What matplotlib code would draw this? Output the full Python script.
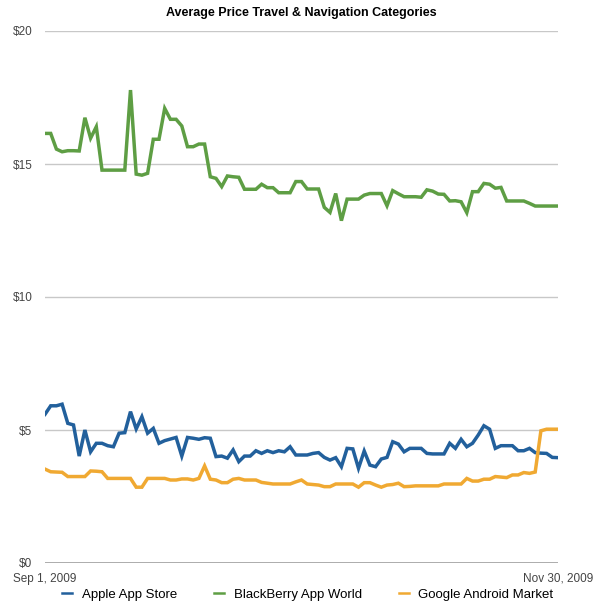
import matplotlib
matplotlib.use("Agg")
import matplotlib.pyplot as plt
import pandas as pd

plt.rcParams['font.family'] = ['Liberation Sans', 'DejaVu Sans']

# daily data, Sep 1 - Nov 30 2009
dates = pd.date_range("2009-09-01", "2009-11-30", freq="D")

apple = [5.59, 5.91, 5.91, 5.97, 5.25, 5.19, 4.02, 5.0, 4.18, 4.5,
         4.5, 4.41, 4.37, 4.88, 4.9, 5.69, 5.04, 5.5, 4.88, 5.06,
         4.5, 4.6, 4.66, 4.72, 4.02, 4.72, 4.69, 4.65, 4.71, 4.69,
         4.0, 4.02, 3.94, 4.25, 3.81, 4.02, 4.02, 4.22, 4.12, 4.22,
         4.15, 4.22, 4.18, 4.37, 4.06, 4.06, 4.06, 4.12, 4.15, 3.97,
         3.87, 3.96, 3.62, 4.31, 4.29, 3.56, 4.21, 3.68, 3.62, 3.91,
         3.97, 4.56, 4.47, 4.18, 4.31, 4.31, 4.31, 4.12, 4.1, 4.1,
         4.1, 4.5, 4.31, 4.65, 4.37, 4.5, 4.81, 5.16, 5.03, 4.31,
         4.41, 4.41, 4.41, 4.22, 4.22, 4.31, 4.15, 4.13, 4.12, 3.97,
         3.96]

blackberry = [16.15, 16.15, 15.56, 15.46, 15.5, 15.5, 15.49, 16.74, 15.97, 16.4,
              14.77, 14.77, 14.77, 14.77, 14.77, 17.78, 14.62, 14.58, 14.65, 15.93,
              15.93, 17.09, 16.68, 16.68, 16.43, 15.65, 15.65, 15.75, 15.75, 14.52,
              14.46, 14.15, 14.55, 14.52, 14.5, 14.05, 14.05, 14.05, 14.24, 14.11,
              14.11, 13.92, 13.92, 13.92, 14.34, 14.34, 14.06, 14.06, 14.06, 13.37,
              13.18, 13.89, 12.87, 13.68, 13.68, 13.68, 13.83, 13.89, 13.89, 13.89,
              13.43, 14.0, 13.88, 13.77, 13.77, 13.77, 13.75, 14.03, 13.98, 13.87,
              13.86, 13.61, 13.62, 13.58, 13.17, 13.96, 13.96, 14.27, 14.24, 14.09,
              14.12, 13.61, 13.61, 13.61, 13.61, 13.52, 13.42, 13.42, 13.42, 13.42,
              13.42]

android = [3.53, 3.43, 3.42, 3.41, 3.25, 3.25, 3.25, 3.25, 3.46, 3.45,
           3.43, 3.18, 3.18, 3.18, 3.18, 3.18, 2.85, 2.85, 3.18, 3.18,
           3.18, 3.18, 3.12, 3.12, 3.16, 3.16, 3.12, 3.18, 3.65, 3.15,
           3.12, 3.02, 3.02, 3.15, 3.18, 3.12, 3.12, 3.12, 3.03, 3.0,
           2.97, 2.97, 2.97, 2.97, 3.05, 3.12, 2.97, 2.95, 2.93, 2.87,
           2.87, 2.97, 2.97, 2.97, 2.97, 2.85, 3.02, 3.02, 2.93, 2.85,
           2.93, 2.95, 3.0, 2.87, 2.88, 2.9, 2.9, 2.9, 2.9, 2.9,
           2.97, 2.97, 2.97, 2.97, 3.18, 3.08, 3.08, 3.15, 3.15, 3.25,
           3.23, 3.21, 3.31, 3.31, 3.4, 3.37, 3.42, 4.97, 5.03, 5.03,
           5.03]

series = ["Apple App Store", "BlackBerry App World", "Google Android Market"]
colors = ["#22609c", "#5e9e44", "#f0a932"]
yticks = [0, 5, 10, 15, 20]

fig = plt.figure(figsize=(6.1, 6.1), dpi=100)
ax = fig.add_axes([45 / 610, 1 - 563 / 610, 513 / 610, 532 / 610])

for vals, name, c in zip([apple, blackberry, android], series, colors):
    ax.plot(dates, vals, color=c, linewidth=2.5, label=name,
            solid_joinstyle='miter', zorder=3)

ax.set_xlim(dates[0], dates[-1])
ax.set_ylim(0, 20)
ax.set_yticks(yticks)
ax.set_yticklabels([f"${v}" for v in yticks])
ax.set_xticks([dates[0], dates[-1]])
ax.set_xticklabels(["Sep 1, 2009", "Nov 30, 2009"])
ax.tick_params(length=0, labelsize=8.5, colors="#444444")
ax.tick_params(axis='y', pad=9)
ax.tick_params(axis='x', pad=7)

ax.grid(axis='y', color='#c8c8c8', linewidth=1)
ax.axhline(0, color='#a0a0a0', linewidth=1.2, zorder=2)
for s in ax.spines.values():
    s.set_visible(False)

ax.set_title("Average Price Travel & Navigation Categories",
             fontsize=9, fontweight='bold', pad=11)

leg = ax.legend(loc='upper center', bbox_to_anchor=(0.512, -0.026), ncol=3,
                frameon=False, fontsize=9.5, handlelength=0.8,
                columnspacing=2.8, handletextpad=0.7)
for h in leg.get_lines():
    h.set_linewidth(1.8)

fig.savefig("out.png", dpi=100)
